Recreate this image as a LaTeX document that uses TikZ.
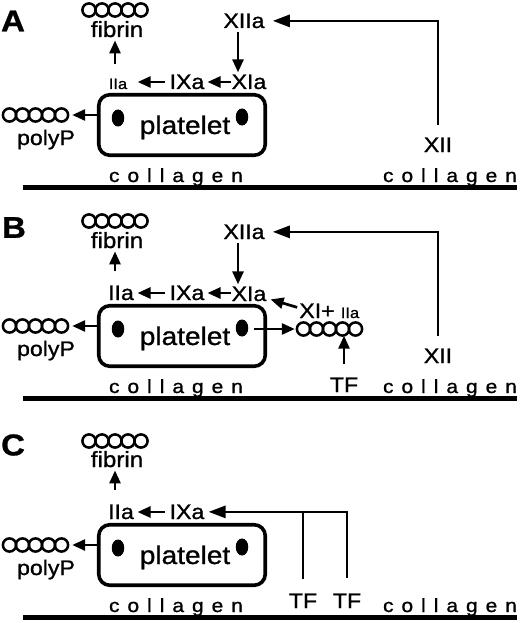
\documentclass[tikz,border=0pt]{standalone}
\usepackage{fontspec}
\setmainfont{Liberation Sans}[FakeStretch=1.1,FakeBold=1.0]
\usetikzlibrary{arrows.meta,shapes.geometric}
\newcommand\collagentext{c\kern8pt o\kern8pt l\kern8pt l\kern8pt a\kern8pt g\kern8pt e\kern8pt n}
\newcommand\chainat[1]{\foreach \k in {-2,...,2}{\draw[chaincirc] ([xshift=\k*13pt]#1.center) circle[radius=6.6pt];}}
% #1 suffix, #2 IIa style, #3 IIa x, #4 fibrin chain y
\newcommand\commonpanel[4]{%
  \node[chainbox] (fib#1) at (115,#4) {};
  \chainat{fib#1}
  \node[txt, font=\fontsize{22}{22}\selectfont] (fibt#1) at (117,37) {fibrin};
  \node[#2] (IIa#1) at (#3,89) {IIa};
  \node[txt] (IXa#1) at (187,89) {IXa};
  \coordinate (row#1) at (0,82);
  \draw[arr, shorten <=4pt, shorten >=3.5pt] (IXa#1.west |- row#1) -- (IIa#1.east |- row#1);
  \draw[arr, shorten <=14pt, shorten >=3pt] (IIa#1.north -| fib#1) -- (fibt#1.south -| fib#1);
  \node[boxst] (box#1) at (182,125) {};
  \node[dotst] (dL#1) at (118,118) {};
  \node[dotst] (dR#1) at (242,117) {};
  \node[txt, font=\fontsize{25.5}{25.5}\selectfont] (plt#1) at (185,134) {platelet};
  \node[chainbox] (poly#1) at (35.5,115) {};
  \chainat{poly#1}
  \node[txt, font=\fontsize{21}{21}\selectfont] (polyt#1) at (46,145) {polyP};
  \draw[arr, shorten >=4pt] (box#1.west |- poly#1) -- (poly#1.east);
  \node[colst] (colL#1) at (176,182) {\collagentext};
  \node[colst] (colR#1) at (450,182) {\collagentext};
  \draw[line width=5pt] (23,187.5) -- (517,187.5);
}
\begin{document}
\begin{tikzpicture}[x=1pt,y=-1pt,
  txt/.style={inner sep=0pt, anchor=base, font=\fontsize{21}{21}\selectfont},
  smalltxt/.style={txt, font=\fontsize{15}{15}\selectfont},
  smallIIa/.style={smalltxt, outer xsep=7pt},
  colst/.style={txt, font=\fontsize{19}{19}\selectfont},
  lbl/.style={inner sep=0pt, font=\fontsize{30}{30}\selectfont\bfseries},
  chainbox/.style={minimum width=65pt, minimum height=13pt, inner sep=0pt},
  chaincirc/.style={line width=2.5pt},
  boxst/.style={draw, line width=3.6pt, rounded corners=11pt, minimum width=166.5pt, minimum height=60.5pt, inner sep=0pt},
  dotst/.style={ellipse, fill, minimum width=12.5pt, minimum height=17pt, inner sep=0pt},
  plainline/.style={line width=2.7pt},
  arr/.style={line width=2.7pt, -{Triangle[length=13pt,width=11pt]}},
  longarr/.style={line width=2.7pt, -{Triangle[length=17pt,width=12pt]}}
]
\useasboundingbox (0,0) rectangle (520,623);
\fill[white] (0,0) rectangle (520,623);

% ---------- Panel A ----------
\begin{scope}
  \node[lbl] (labA) at (13,21) {A};
  \commonpanel{A}{smallIIa}{118}{10}
  \node[txt] (XIaA) at (249,89) {XIa};
  \node[txt] (XIIaA) at (244,28) {XIIa};
  \node[txt] (XIIA) at (438,152) {XII};
  \coordinate (dnA) at (238,0);
  \draw[arr, shorten >=3pt] (XIaA.west |- rowA) -- (IXaA.east |- rowA);
  \draw[arr, shorten <=4pt, shorten >=2pt] (XIIaA.south -| dnA) -- (XIaA.north -| dnA);
  \draw[longarr, shorten <=12pt, shorten >=8pt] (XIIA.north) |- (XIIaA.east);
\end{scope}

% ---------- Panel B ----------
\begin{scope}[shift={(0,211)}]
  \node[lbl] (labB) at (14,16.5) {B};
  \commonpanel{B}{txt}{121}{10}
  \node[txt] (XIaB) at (249,90) {XIa};
  \node[txt] (XIIaB) at (244,28) {XIIa};
  \node[txt] (XIIB) at (438,152) {XII};
  \coordinate (dnB) at (238,0);
  \draw[arr, shorten >=3pt] (XIaB.west |- rowB) -- (IXaB.east |- rowB);
  \draw[arr, shorten <=4pt, shorten >=2pt] (XIIaB.south -| dnB) -- (XIaB.north -| dnB);
  \draw[longarr, shorten <=12pt, shorten >=8pt] (XIIB.north) |- (XIIaB.east);
  \node[chainbox] (chB) at (329.5,118) {};
  \chainat{chB}
  \draw[arr, shorten <=6pt, shorten >=2pt] (dRB.east |- chB) -- (chB.west);
  \node[txt] (XIpB) at (317,107) {XI+};
  \node[smalltxt] (IIbB) at (350,107) {IIa};
  \draw[arr] ([xshift=-2pt,yshift=-4pt]XIpB.north west) -- ([xshift=4pt,yshift=2pt]XIaB.south east);
  \node[txt] (TFB) at (344,181) {TF};
  \draw[arr, shorten <=13pt] (TFB.north) -- (TFB.north |- chB.south);
\end{scope}

% ---------- Panel C ----------
\begin{scope}[shift={(0,430)}]
  \node[lbl] (labC) at (13,15) {C};
  \commonpanel{C}{txt}{121}{11}
  \node[txt] (TF1C) at (303,178) {TF};
  \node[txt] (TF2C) at (347,178) {TF};
  \draw[longarr, shorten <=15pt, shorten >=4pt] (TF2C.north) |- (IXaC.east);
  \draw[plainline, shorten <=14pt] (TF1C.north) -- (TF1C.north |- IXaC.east);
\end{scope}
\end{tikzpicture}
\end{document}
